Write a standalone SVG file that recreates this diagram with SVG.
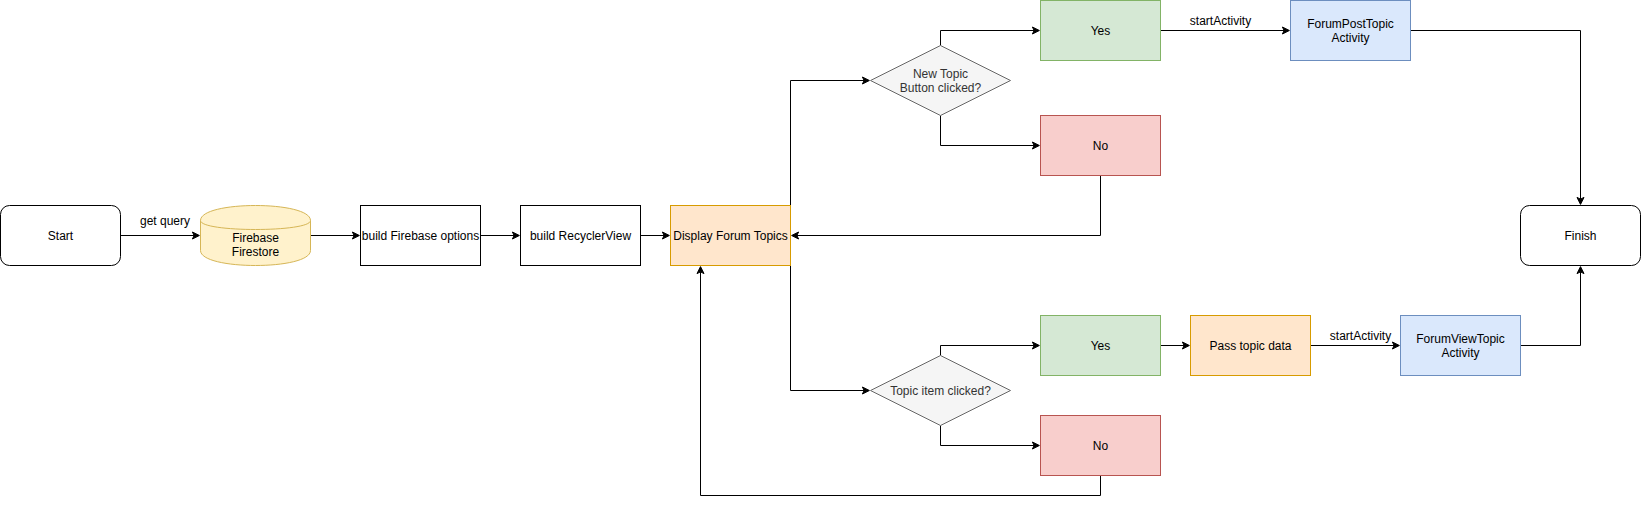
<svg xmlns="http://www.w3.org/2000/svg" width="1641" height="505" viewBox="0 0 1641 505">
<style>
text{font-family:"Liberation Sans",Arial,sans-serif;font-size:12px;fill:#000;text-anchor:middle}
.n{stroke:#000;fill:#fff}
.grn{fill:#d5e8d4;stroke:#82b366}
.red{fill:#f8cecc;stroke:#b85450}
.blu{fill:#dae8fc;stroke:#6c8ebf}
.org{fill:#ffe6cc;stroke:#d79b00}
.gry{fill:#f5f5f5;stroke:#666666}
.yel{fill:#fff2cc;stroke:#d6b656}
.dk{fill:#333333}
#connectors path{fill:none;stroke:#000;marker-end:url(#arrow)}
</style>
<defs>
<marker id="arrow" markerUnits="userSpaceOnUse" markerWidth="10" markerHeight="10" refX="1.75" refY="0" orient="auto" overflow="visible" viewBox="-1 -5 10 10">
<path d="M7 0L0 3.5L1.75 0L0 -3.5Z" fill="#000" stroke="#000"/>
</marker>
</defs>
<rect width="1641" height="505" fill="#fff"/>
<g id="connectors">
<path d="M120.5 235.5H194.13"/>
<path d="M310.5 235.5H354.13"/>
<path d="M480.5 235.5H514.13"/>
<path d="M640.5 235.5H664.13"/>
<path d="M790.5 205.5V80.5H864.13"/>
<path d="M790.5 265.5V390.5H864.13"/>
<path d="M940.5 45.5V30.5H1034.13"/>
<path d="M940.5 115.5V145.5H1034.13"/>
<path d="M1100.5 175.5V235.5H796.87"/>
<path d="M1160.5 30.5H1284.13"/>
<path d="M1410.5 30.5H1580.5V199.13"/>
<path d="M940.5 355.5V345.5H1034.13"/>
<path d="M940.5 425.5V445.5H1034.13"/>
<path d="M1100.5 475.5V495.5H700.5V271.87"/>
<path d="M1160.5 345.5H1184.13"/>
<path d="M1310.5 345.5H1394.13"/>
<path d="M1520.5 345.5H1580.5V271.87"/>
</g>
<g id="edge-labels">
<text x="165" y="225">get query</text>
<text x="1220.5" y="25">startActivity</text>
<text x="1360.5" y="340">startActivity</text>
</g>
<g id="start"><rect class="n" x="0.5" y="205.5" width="120" height="60" rx="9" ry="9"/><text x="60.5" y="240">Start</text></g>
<g id="firestore"><path class="yel" d="M200.5 220.5C200.5 200.5 310.5 200.5 310.5 220.5V250.5C310.5 270.5 200.5 270.5 200.5 250.5Z"/><path class="yel" fill="none" style="fill:none" d="M200.5 220.5C200.5 232.5 310.5 232.5 310.5 220.5"/><text x="255.5" y="242">Firebase</text><text x="255.5" y="256">Firestore</text></g>
<g id="build-options"><rect class="n" x="360.5" y="205.5" width="120" height="60"/><text x="420.5" y="240">build Firebase options</text></g>
<g id="build-recycler"><rect class="n" x="520.5" y="205.5" width="120" height="60"/><text x="580.5" y="240">build RecyclerView</text></g>
<g id="display"><rect class="org" x="670.5" y="205.5" width="120" height="60"/><text x="730.5" y="240">Display Forum Topics</text></g>
<g id="new-topic"><path class="gry" d="M940.5 45.5L1010.5 80.5L940.5 115.5L870.5 80.5Z"/><text class="dk" x="940.5" y="78">New Topic</text><text class="dk" x="940.5" y="92">Button clicked?</text></g>
<g id="yes-top"><rect class="grn" x="1040.5" y="0.5" width="120" height="60"/><text x="1100.5" y="35">Yes</text></g>
<g id="no-top"><rect class="red" x="1040.5" y="115.5" width="120" height="60"/><text x="1100.5" y="150">No</text></g>
<g id="post-topic"><rect class="blu" x="1290.5" y="0.5" width="120" height="60"/><text x="1350.5" y="28">ForumPostTopic</text><text x="1350.5" y="42">Activity</text></g>
<g id="finish"><rect class="n" x="1520.5" y="205.5" width="120" height="60" rx="9" ry="9"/><text x="1580.5" y="240">Finish</text></g>
<g id="topic-item"><path class="gry" d="M940.5 355.5L1010.5 390.5L940.5 425.5L870.5 390.5Z"/><text class="dk" x="940.5" y="395">Topic item clicked?</text></g>
<g id="yes-bottom"><rect class="grn" x="1040.5" y="315.5" width="120" height="60"/><text x="1100.5" y="350">Yes</text></g>
<g id="no-bottom"><rect class="red" x="1040.5" y="415.5" width="120" height="60"/><text x="1100.5" y="450">No</text></g>
<g id="pass-data"><rect class="org" x="1190.5" y="315.5" width="120" height="60"/><text x="1250.5" y="350">Pass topic data</text></g>
<g id="view-topic"><rect class="blu" x="1400.5" y="315.5" width="120" height="60"/><text x="1460.5" y="343">ForumViewTopic</text><text x="1460.5" y="357">Activity</text></g>
</svg>
